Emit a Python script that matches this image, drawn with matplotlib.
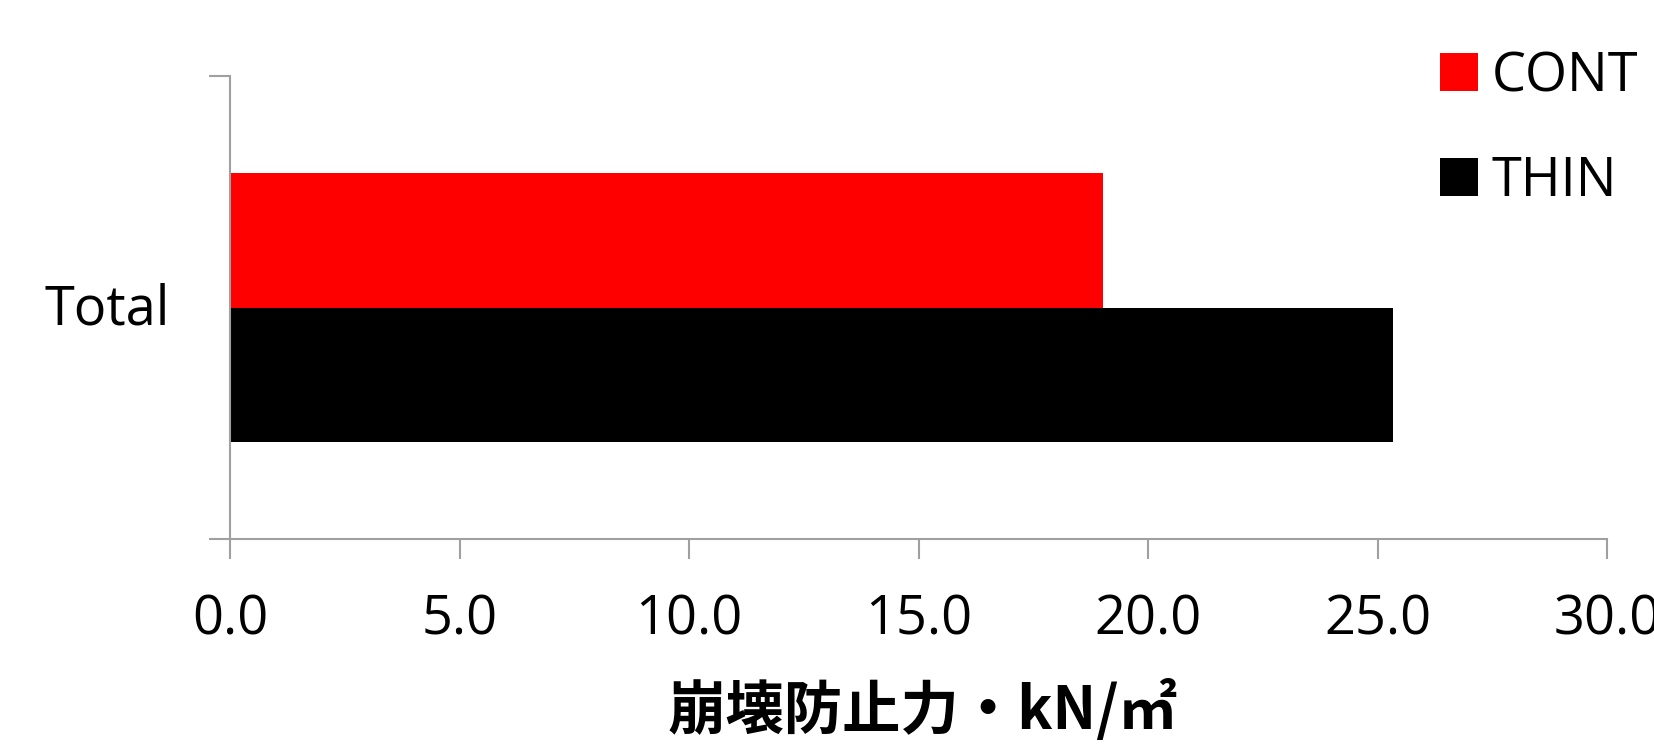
import matplotlib
matplotlib.use("Agg")
import matplotlib.pyplot as plt
from matplotlib.patches import Patch
from matplotlib.transforms import ScaledTranslation

categories = ["Total"]
series_names = ["CONT", "THIN"]
cont_values = [19.03]
thin_values = [25.34]
x_ticks = [0.0, 5.0, 10.0, 15.0, 20.0, 25.0, 30.0]
x_label = "崩壊防止力・kN/㎡"

colors = {"CONT": "#ff0000", "THIN": "#000000"}
axis_gray = "#a0a0a0"

plt.rcParams["font.family"] = ["Open Sans", "Noto Sans CJK JP", "DejaVu Sans"]

W, H, DPI = 1654, 747, 100
fig = plt.figure(figsize=(W / DPI, H / DPI), dpi=DPI)
ax = fig.add_axes([230 / W, 1 - 539 / H, (1607 - 230) / W, (539 - 76) / H])

bar_h = 0.29
ypos = list(range(len(categories)))
ax.barh([y + bar_h / 2 for y in ypos], cont_values, height=bar_h,
        color=colors["CONT"], linewidth=0, label="CONT")
ax.barh([y - bar_h / 2 for y in ypos], thin_values, height=bar_h,
        color=colors["THIN"], linewidth=0, label="THIN")

ax.set_xlim(x_ticks[0], x_ticks[-1])
ax.set_ylim(-0.5, len(categories) - 0.5)

ax.set_xticks(x_ticks)
ax.set_xticklabels([f"{v:.1f}" for v in x_ticks])

# category boundaries carry the tick marks, the category name sits between them
ax.set_yticks([y - 0.5 for y in range(len(categories) + 1)])
ax.set_yticklabels([])
ax.set_yticks(ypos, minor=True)
ax.set_yticklabels(categories, minor=True)

ax.tick_params(axis="x", which="major", direction="out", length=14.4, width=1.5,
               color=axis_gray, labelsize=39, pad=24, labelcolor="black")
ax.tick_params(axis="y", which="major", direction="out", length=15, width=1.5,
               color=axis_gray)
ax.tick_params(axis="y", which="minor", length=0, labelsize=39, pad=43,
               labelcolor="black")

# lift the category names a little so they sit centred on the bar pair
lift = ScaledTranslation(0, 4 / DPI, fig.dpi_scale_trans)
for lbl in ax.get_yticklabels(minor=True):
    lbl.set_transform(lbl.get_transform() + lift)

for side in ("top", "right"):
    ax.spines[side].set_visible(False)
for side in ("left", "bottom"):
    ax.spines[side].set_color(axis_gray)
    ax.spines[side].set_linewidth(1.5)

ax.set_xlabel(x_label, family=["Noto Sans CJK JP", "DejaVu Sans"],
              fontweight="bold", fontsize=42)
ax.xaxis.label.set_va("center")
ax.xaxis.set_label_coords((923 - 230) / (1607 - 230), (539 - 711) / (539 - 76))

handles = [Patch(facecolor=colors[n], edgecolor="none", label=n) for n in series_names]
fig.legend(handles=handles, loc="upper left",
           bbox_to_anchor=(1440 / W, 1 - 49 / H), frameon=False,
           fontsize=39, handlelength=0.7, handleheight=0.7,
           handletextpad=0.26, labelspacing=0.92, borderpad=0, borderaxespad=0)

fig.savefig("out.png", dpi=DPI)
